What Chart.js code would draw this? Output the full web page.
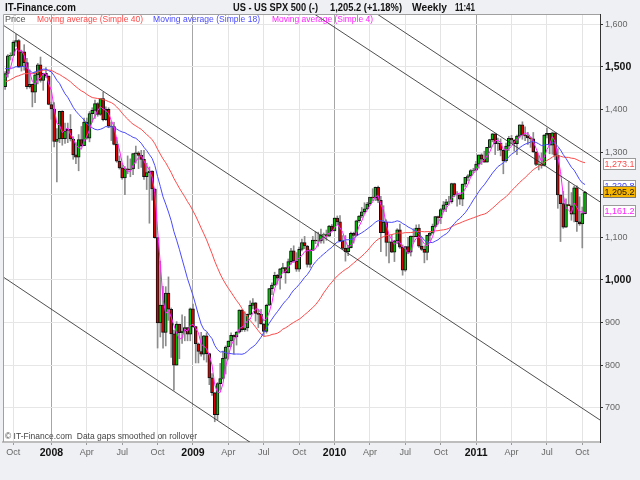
<!DOCTYPE html>
<html><head><meta charset="utf-8">
<script src="https://cdn.jsdelivr.net/npm/chart.js@4.4.0/dist/chart.umd.min.js"></script>
<style>html,body{margin:0;padding:0;background:#eff0f3;overflow:hidden}canvas{display:block}</style>
</head><body><canvas id="c" width="640" height="480"></canvas>
<script>
const weeks = ['2007-09-10','2007-09-17','2007-09-24','2007-10-01','2007-10-08','2007-10-15','2007-10-22','2007-10-29','2007-11-05','2007-11-12','2007-11-19','2007-11-26','2007-12-03','2007-12-10','2007-12-17','2007-12-24','2007-12-31',
'2008-01-07','2008-01-14','2008-01-21','2008-01-28','2008-02-04','2008-02-11','2008-02-18','2008-02-25','2008-03-03','2008-03-10','2008-03-17','2008-03-24','2008-03-31','2008-04-07','2008-04-14','2008-04-21','2008-04-28','2008-05-05','2008-05-12','2008-05-19','2008-05-26','2008-06-02','2008-06-09','2008-06-16','2008-06-23','2008-06-30','2008-07-07','2008-07-14','2008-07-21','2008-07-28','2008-08-04','2008-08-11','2008-08-18','2008-08-25','2008-09-01','2008-09-08','2008-09-15','2008-09-22','2008-09-29','2008-10-06','2008-10-13','2008-10-20','2008-10-27','2008-11-03','2008-11-10','2008-11-17','2008-11-24','2008-12-01','2008-12-08','2008-12-15','2008-12-22','2008-12-29',
'2009-01-05','2009-01-12','2009-01-19','2009-01-26','2009-02-02','2009-02-09','2009-02-16','2009-02-23','2009-03-02','2009-03-09','2009-03-16','2009-03-23','2009-03-30','2009-04-06','2009-04-13','2009-04-20','2009-04-27','2009-05-04','2009-05-11','2009-05-18','2009-05-25','2009-06-01','2009-06-08','2009-06-15','2009-06-22','2009-06-29','2009-07-06','2009-07-13','2009-07-20','2009-07-27','2009-08-03','2009-08-10','2009-08-17','2009-08-24','2009-08-31','2009-09-07','2009-09-14','2009-09-21','2009-09-28','2009-10-05','2009-10-12','2009-10-19','2009-10-26','2009-11-02','2009-11-09','2009-11-16','2009-11-23','2009-11-30','2009-12-07','2009-12-14','2009-12-21','2009-12-28',
'2010-01-04','2010-01-11','2010-01-18','2010-01-25','2010-02-01','2010-02-08','2010-02-15','2010-02-22','2010-03-01','2010-03-08','2010-03-15','2010-03-22','2010-03-29','2010-04-05','2010-04-12','2010-04-19','2010-04-26','2010-05-03','2010-05-10','2010-05-17','2010-05-24','2010-05-31','2010-06-07','2010-06-14','2010-06-21','2010-06-28','2010-07-05','2010-07-12','2010-07-19','2010-07-26','2010-08-02','2010-08-09','2010-08-16','2010-08-23','2010-08-30','2010-09-06','2010-09-13','2010-09-20','2010-09-27','2010-10-04','2010-10-11','2010-10-18','2010-10-25','2010-11-01','2010-11-08','2010-11-15','2010-11-22','2010-11-29','2010-12-06','2010-12-13','2010-12-20','2010-12-27',
'2011-01-03','2011-01-10','2011-01-17','2011-01-24','2011-01-31','2011-02-07','2011-02-14','2011-02-21','2011-02-28','2011-03-07','2011-03-14','2011-03-21','2011-03-28','2011-04-04','2011-04-11','2011-04-18','2011-04-25','2011-05-02','2011-05-09','2011-05-16','2011-05-23','2011-05-30','2011-06-06','2011-06-13','2011-06-20','2011-06-27','2011-07-04','2011-07-11','2011-07-18','2011-07-25','2011-08-01','2011-08-08','2011-08-15','2011-08-22','2011-08-29','2011-09-05','2011-09-12','2011-09-19','2011-09-26','2011-10-03','2011-10-10'];

const openP = [1453.6,1484.3,1525.8,1526.8,1557.6,1561.8,1500.6,1535.3,1509.7,1453.7,1458.7,1440.7,1481.1,1504.7,1468.0,1484.5,1478.5,
1411.6,1401.0,1325.2,1330.6,1395.4,1331.3,1350.0,1353.1,1330.6,1293.4,1288.1,1329.5,1315.2,1370.4,1332.8,1390.3,1397.8,1413.9,1388.3,1425.4,1375.9,1400.4,1360.7,1360.0,1317.9,1278.4,1262.9,1239.5,1260.7,1257.8,1260.3,1296.3,1298.2,1292.2,1282.8,1242.3,1251.7,1255.1,1213.3,1099.2,899.2,940.6,876.8,968.8,931.0,873.3,800.0,896.2,876.1,879.7,887.9,872.8,
931.8,890.4,850.1,831.9,825.9,868.6,826.8,770.1,735.1,683.4,756.6,768.5,815.9,842.5,856.6,869.6,866.2,877.5,929.2,882.9,887.0,919.1,940.1,946.2,921.2,918.9,896.4,879.1,940.4,979.3,987.5,1010.5,1004.1,1026.1,1028.9,1016.4,1042.7,1068.3,1044.4,1025.2,1071.5,1087.7,1079.6,1036.2,1069.3,1093.5,1091.4,1091.5,1106.0,1106.4,1102.5,1126.5,
1115.1,1145.0,1136.0,1091.8,1073.9,1066.2,1075.5,1109.2,1104.5,1138.7,1150.0,1159.9,1166.6,1178.1,1194.4,1192.1,1217.3,1186.7,1110.9,1135.7,1087.7,1089.4,1064.9,1091.6,1117.5,1076.8,1022.6,1078.0,1064.9,1102.7,1101.6,1121.6,1079.3,1071.7,1064.6,1104.5,1109.6,1125.6,1148.7,1146.2,1165.2,1176.2,1183.1,1183.3,1225.9,1199.2,1199.7,1189.4,1224.7,1240.4,1243.9,1256.8,
1257.6,1271.5,1293.2,1283.4,1276.3,1310.9,1329.2,1343.0,1319.9,1321.2,1304.3,1279.2,1313.8,1332.4,1328.2,1319.7,1337.4,1363.6,1340.2,1337.8,1333.3,1331.1,1300.2,1271.0,1271.5,1268.5,1339.7,1343.8,1316.1,1345.0,1292.3,1199.4,1178.8,1123.5,1176.8,1174.0,1154.2,1216.0,1136.4,1131.4,1155.5];

const highP = [1489,1529,1533,1561,1576,1564,1539,1552,1520,1493,1460,1488,1508,1523,1485,1498,1479,
1417,1416,1355,1396,1397,1368,1368,1388,1336,1322,1341,1360,1380,1380,1395,1404,1422,1416,1425,1440,1406,1404,1370,1370,1334,1291,1274,1266,1291,1284,1297,1314,1301,1304,1304,1274,1265,1256,1214,1100,1044,985,984,1007,934,882,902,896,918,914,888,934,
943,891,852,877,870,876,827,780,736,759,804,833,845,857,876,871,879,930,930,925,920,951,956,947,930,931,898,943,980,993,1018,1013,1027,1039,1029,1049,1074,1080,1064,1077,1096,1102,1081,1072,1102,1113,1112,1119,1110,1117,1128,1130,
1146,1150,1151,1104,1104,1081,1112,1112,1140,1151,1170,1181,1182,1194,1214,1218,1220,1196,1174,1141,1104,1106,1093,1120,1131,1082,1078,1100,1103,1120,1129,1130,1100,1080,1105,1111,1131,1149,1150,1168,1184,1189,1196,1227,1227,1207,1200,1225,1240,1247,1259,1262,
1278,1293,1296,1302,1311,1330,1344,1343,1333,1331,1304,1321,1337,1339,1329,1340,1364,1371,1359,1346,1334,1346,1301,1292,1298,1341,1356,1344,1347,1345,1308,1199,1208,1190,1230,1205,1220,1221,1195,1171,1208];

const lowP = [1447,1476,1516,1527,1548,1500,1490,1492,1448,1450,1406,1416,1460,1464,1445,1475,1411,
1377,1312,1230,1322,1316,1320,1322,1326,1283,1273,1256,1312,1315,1330,1324,1370,1379,1384,1386,1373,1374,1357,1327,1317,1276,1260,1236,1200,1249,1242,1247,1274,1261,1264,1236,1212,1133,1187,1098,840,866,840,845,905,818,741,800,815,851,857,857,857,
888,805,805,821,812,807,754,729,667,672,741,767,779,814,843,826,847,875,879,879,880,918,932,903,888,896,869,875,940,965,987,990,978,1018,992,1016,1036,1041,1020,1020,1068,1073,1030,1029,1069,1085,1079,1086,1086,1093,1102,1115,
1115,1131,1090,1071,1044,1057,1075,1086,1104,1135,1146,1156,1165,1175,1186,1186,1181,1066,1111,1056,1040,1064,1043,1085,1074,1011,1020,1063,1056,1089,1102,1076,1069,1040,1047,1092,1110,1123,1131,1132,1160,1160,1177,1180,1195,1173,1177,1174,1219,1232,1243,1251,
1257,1262,1271,1276,1276,1310,1324,1294,1303,1291,1249,1276,1303,1321,1302,1294,1333,1330,1327,1318,1311,1299,1268,1258,1262,1267,1333,1296,1295,1282,1168,1090,1121,1123,1174,1140,1136,1114,1128,1075,1155];

const closeP = [1484.3,1525.8,1526.8,1557.6,1561.8,1500.6,1535.3,1509.7,1453.7,1458.7,1440.7,1481.1,1504.7,1468.0,1484.5,1478.5,1411.6,
1401.0,1325.2,1330.6,1395.4,1331.3,1350.0,1353.1,1330.6,1293.4,1288.1,1329.5,1315.2,1370.4,1332.8,1390.3,1397.8,1413.9,1388.3,1425.4,1375.9,1400.4,1360.7,1360.0,1317.9,1278.4,1262.9,1239.5,1260.7,1257.8,1260.3,1296.3,1298.2,1292.2,1282.8,1242.3,1251.7,1255.1,1213.3,1099.2,899.2,940.6,876.8,968.8,931.0,873.3,800.0,896.2,876.1,879.7,887.9,872.8,931.8,
890.4,850.1,831.9,825.9,868.6,826.8,770.1,735.1,683.4,756.6,768.5,815.9,842.5,856.6,869.6,866.2,877.5,929.2,882.9,887.0,919.1,940.1,946.2,921.2,918.9,896.4,879.1,940.4,979.3,987.5,1010.5,1004.1,1026.1,1028.9,1016.4,1042.7,1068.3,1044.4,1025.2,1071.5,1087.7,1079.6,1036.2,1069.3,1093.5,1091.4,1091.5,1106.0,1106.4,1102.5,1126.5,1115.1,
1145.0,1136.0,1091.8,1073.9,1066.2,1075.5,1109.2,1104.5,1138.7,1150.0,1159.9,1166.6,1178.1,1194.4,1192.1,1217.3,1186.7,1110.9,1135.7,1087.7,1089.4,1064.9,1091.6,1117.5,1076.8,1022.6,1078.0,1064.9,1102.7,1101.6,1121.6,1079.3,1071.7,1064.6,1104.5,1109.6,1125.6,1148.7,1146.2,1165.2,1176.2,1183.1,1183.3,1225.9,1199.2,1199.7,1189.4,1224.7,1240.4,1243.9,1256.8,1257.6,
1271.5,1293.2,1283.4,1276.3,1310.9,1329.2,1343.0,1319.9,1321.2,1304.3,1279.2,1313.8,1332.4,1328.2,1319.7,1337.4,1363.6,1340.2,1337.8,1333.3,1331.1,1300.2,1271.0,1271.5,1268.5,1339.7,1343.8,1316.1,1345.0,1292.3,1199.4,1178.8,1123.5,1176.8,1174.0,1154.2,1216.0,1136.4,1131.4,1155.5,1205.2];

// weekly closes before the first visible week (feed the moving averages)
const priorCloses = [1427.1,1410.8,1418.3,1409.7,1430.7,1430.5,1422.2,1448.4,1438.1,1455.5,1451.2,1387.2,1402.8,1387.0,1436.1,1420.9,1443.8,1452.9,1484.4,1494.1,1505.6,1505.9,1522.8,1515.7,1536.3,1507.7,1532.9,1502.6,1503.4,1530.4,1552.5,1534.1,1459.0,1433.1,1453.6,1445.9,1479.4,1474.0,1453.6];

const maPeriods = [40, 18, 4];
const maNames = ['Moving average (Simple 40)', 'Moving average (Simple 18)', 'Moving average (Simple 4)'];
const maColors = ['#ff4a4a', '#4a4aff', '#ff22ff'];
const lastLabels = ['1,273.1', '1,220.8', '1,161.2', '1,205.2'];
const lastValues = [1273.1, 1220.8, 1161.2, 1205.2];
const yTicks = [700, 800, 900, 1000, 1100, 1200, 1300, 1400, 1500, 1600];
const boldY = [1000, 1500];
// channel lines: [start date, start price, end date, end price]
const trendLines = [
  ['2007-09-03', 1599, '2011-11-21', 669],
  ['2010-03-08', 1652, '2011-11-21', 1275],
  ['2009-08-10', 1681, '2011-11-21', 1181],
  ['2007-09-03', 1008, '2009-08-10', 576]
];
const titleParts = ['IT-Finance.com', 'US - US SPX 500 (-)', '1,205.2 (+1.18%)', 'Weekly', '11:41'];
const footerText = '\u00A9 IT-Finance.com  Data gaps smoothed on rollover';
const monthNames = ['Jan','Feb','Mar','Apr','May','Jun','Jul','Aug','Sep','Oct','Nov','Dec'];

const FONT = "'Liberation Sans', Arial, sans-serif";
const t0 = Date.parse(weeks[0]);
const toIdx = d => (Date.parse(d) - t0) / (7 * 864e5);
const monthOf = i => parseInt(weeks[i].slice(5, 7), 10) - 1;

const tickIdx = [];
for (let i = 1; i < weeks.length; i++) {
  if (monthOf(i) !== monthOf(i - 1) && monthOf(i) % 3 === 0) tickIdx.push(i);
}
const tickLabel = v => {
  const i = Math.round(v); if (!weeks[i]) return '';
  const m = monthOf(i);
  return m === 0 ? weeks[i].slice(0, 4) : monthNames[m];
};

const allCloses = priorCloses.concat(closeP);
const sma = n => closeP.map((_, i) => {
  const end = i + priorCloses.length; let s = 0;
  for (let k = end - n + 1; k <= end; k++) s += allCloses[k];
  return s / n;
});

const wickData = weeks.map((_, i) => ({ x: i, y: [lowP[i], highP[i]] }));
const bodyData = weeks.map((_, i) => ({ x: i, y: [openP[i], closeP[i]] }));
const bodyColors = weeks.map((_, i) => closeP[i] >= openP[i] ? '#00c000' : '#d80000');

const datasets = [];
trendLines.forEach(t => datasets.push({
  type: 'line', data: [{ x: toIdx(t[0]), y: t[1] }, { x: toIdx(t[2]), y: t[3] }],
  borderColor: '#222', borderWidth: 0.8, pointRadius: 0, order: 0
}));
maPeriods.forEach((n, k) => datasets.push({
  type: 'line', data: sma(n).map((y, i) => ({ x: i, y })),
  borderColor: maColors[k], borderWidth: 1, pointRadius: 0, tension: 0, order: 3 - k
}));
datasets.push({ type: 'bar', data: bodyData, backgroundColor: bodyColors, borderColor: '#111', borderWidth: 1, borderSkipped: false, barThickness: 3, grouped: false, order: 5 });
datasets.push({ type: 'bar', data: wickData, backgroundColor: '#8c8c8c', borderWidth: 0, barThickness: 1, grouped: false, order: 6 });

const decor = {
  id: 'decor',
  beforeDraw(chart) {
    const { ctx, chartArea: a } = chart;
    ctx.save();
    ctx.fillStyle = '#eff0f3'; ctx.fillRect(0, 0, chart.width, chart.height);
    ctx.fillStyle = '#ffffff'; ctx.fillRect(a.left, a.top, a.right - a.left, a.bottom - a.top);
    ctx.restore();
  },
  afterDraw(chart) {
    const { ctx, chartArea: a } = chart;
    const y = chart.scales.y;
    ctx.save();
    // plot frame left/top
    ctx.strokeStyle = '#a0a0a0'; ctx.lineWidth = 1;
    ctx.beginPath(); ctx.moveTo(a.left + 0.5, a.bottom); ctx.lineTo(a.left + 0.5, a.top + 0.5); ctx.lineTo(a.right, a.top + 0.5); ctx.stroke();
    // title
    ctx.fillStyle = '#111'; ctx.textBaseline = 'middle'; ctx.textAlign = 'left';
    ctx.font = 'bold 11px ' + FONT;
    ctx.fillText(titleParts[0], 5, 7.5, 71);
    ctx.fillText(titleParts[1], 233, 7.5, 85);
    ctx.fillText(titleParts[2], 330, 7.5, 72);
    ctx.fillText(titleParts[3], 412, 7.5, 35);
    ctx.fillText(titleParts[4], 455, 7.5, 20);
    // legend
    ctx.font = '9px ' + FONT;
    ctx.fillStyle = '#555'; ctx.fillText('Price', 5, 20, 21);
    const lx = [37, 153, 272], lw = [106, 107, 101];
    maNames.forEach((n, k) => { ctx.fillStyle = maColors[k]; ctx.fillText(n, lx[k], 20, lw[k]); });
    // footer
    ctx.fillStyle = '#444'; ctx.font = '9.5px ' + FONT;
    ctx.fillText(footerText, 5, 436, 192);
    // last value boxes
    ctx.font = '9.5px ' + FONT; ctx.textAlign = 'center';
    const order = [0, 1, 2, 3];
    const boxColors = [maColors[0], '#3a3aff', '#ff22ff', '#111'];
    order.forEach(k => {
      const py = Math.round(y.getPixelForValue(lastValues[k]));
      const isPrice = k === 3;
      ctx.fillStyle = isPrice ? '#f7b500' : '#ffffff';
      ctx.fillRect(603.5, py - 5.5, 32, 11);
      ctx.strokeStyle = isPrice ? '#777' : '#9a9a9a';
      ctx.strokeRect(603.5, py - 5.5, 32, 11);
      ctx.fillStyle = boxColors[k];
      ctx.fillText(lastLabels[k], 619.5, py + 0.5, 30);
    });
    ctx.restore();
  }
};

new Chart(document.getElementById('c'), {
  type: 'bar',
  data: { datasets },
  plugins: [decor],
  options: {
    responsive: false, animation: false, devicePixelRatio: 1,
    layout: { padding: { left: 3, top: 14, right: 0, bottom: 0 } },
    plugins: { legend: { display: false }, tooltip: { enabled: false } },
    scales: {
      x: {
        type: 'linear', min: -0.78, max: 218.5, offset: false,
        afterBuildTicks: s => { s.ticks = tickIdx.map(v => ({ value: v })); },
        afterFit: s => { s.height = 38; },
        ticks: {
          autoSkip: false, maxRotation: 0, padding: 2,
          callback: v => tickLabel(v),
          font: c => (c.tick && monthOf(Math.round(c.tick.value)) === 0) ? { family: FONT, size: 10.5, weight: 'bold' } : { family: FONT, size: 9 },
          color: c => (c.tick && monthOf(Math.round(c.tick.value)) === 0) ? '#111' : '#666'
        },
        grid: {
          offset: false,
          color: c => (c.tick && monthOf(Math.round(c.tick.value)) === 0) ? '#a6a6a6' : '#e4e4e4',
          tickColor: '#999', tickLength: 3
        },
        border: { color: '#bdbdbd', width: 2 }
      },
      y: {
        position: 'right', min: 619.5, max: 1624,
        afterBuildTicks: s => { s.ticks = yTicks.map(v => ({ value: v })); },
        afterFit: s => { s.width = 40; },
        ticks: {
          padding: 2,
          callback: v => v.toLocaleString('en-US'),
          font: c => (c.tick && boldY.includes(c.tick.value)) ? { family: FONT, size: 10.5, weight: 'bold' } : { family: FONT, size: 9 },
          color: c => (c.tick && boldY.includes(c.tick.value)) ? '#111' : '#666'
        },
        grid: { color: '#e6e6e6', tickColor: '#333', tickLength: 3 },
        border: { color: '#333', width: 1 }
      }
    }
  }
});
</script></body></html>
